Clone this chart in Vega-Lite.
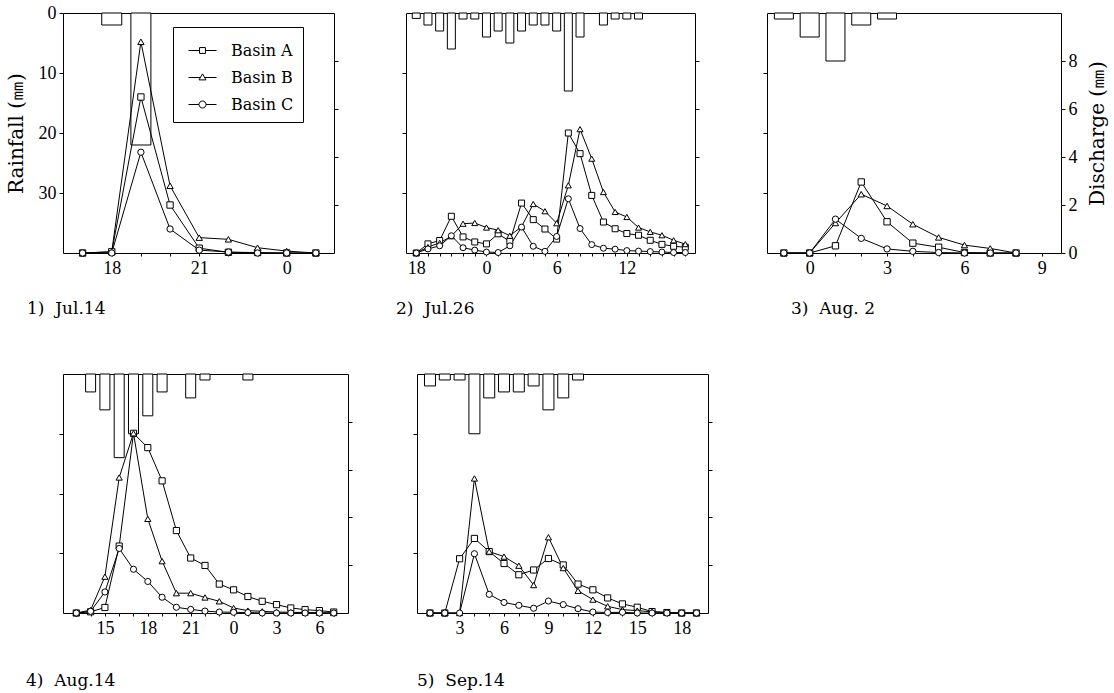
{
"$schema": "https://vega.github.io/schema/vega-lite/v6.json",
"background": "white",
"autosize": {"type": "pad"},
"padding": {"left": 5, "top": 3, "right": 5, "bottom": 5},
"config": {
 "font": "DejaVu Serif",
 "view": {"stroke": "black", "strokeWidth": 1},
 "axis": {"domain": false, "grid": false, "tickColor": "black", "tickSize": 4, "labelFont": "Liberation Serif", "labelFontSize": 18, "labelColor": "black", "labelPadding": 3, "labelOverlap": false, "labelFlush": false, "titleFont": "DejaVu Serif", "titleFontSize": 20, "titleFontWeight": "normal", "titleColor": "black"},
 "title": {"font": "DejaVu Serif", "fontSize": 17, "fontWeight": "normal", "color": "black", "orient": "bottom", "anchor": "start", "frame": "group", "offset": 24},
 "legend": {"strokeColor": "black", "fillColor": "white", "padding": 9, "symbolOffset": 6, "labelOffset": 14, "symbolSize": 784, "symbolStrokeWidth": 1, "symbolStrokeColor": "black", "symbolOpacity": 1, "labelFont": "DejaVu Serif", "labelFontSize": 16, "labelColor": "black", "rowPadding": 4}
},
"datasets": {
 "rain": [
  {"p":1,"h":18,"r":2},{"p":1,"h":19,"r":22},
  {"p":2,"h":18,"r":0.9},{"p":2,"h":19,"r":2},{"p":2,"h":20,"r":3},{"p":2,"h":21,"r":6},{"p":2,"h":22,"r":1},{"p":2,"h":23,"r":1},{"p":2,"h":24,"r":4},{"p":2,"h":25,"r":3},{"p":2,"h":26,"r":5},{"p":2,"h":27,"r":3},{"p":2,"h":28,"r":2},{"p":2,"h":29,"r":2},{"p":2,"h":30,"r":3},{"p":2,"h":31,"r":13},{"p":2,"h":32,"r":4},{"p":2,"h":34,"r":2},{"p":2,"h":35,"r":1},{"p":2,"h":36,"r":1},{"p":2,"h":37,"r":1},
  {"p":3,"h":-1,"r":1},{"p":3,"h":0,"r":4},{"p":3,"h":1,"r":8},{"p":3,"h":2,"r":2},{"p":3,"h":3,"r":1},
  {"p":4,"h":14,"r":3},{"p":4,"h":15,"r":6},{"p":4,"h":16,"r":14},{"p":4,"h":17,"r":10},{"p":4,"h":18,"r":7},{"p":4,"h":19,"r":3},{"p":4,"h":21,"r":4},{"p":4,"h":22,"r":1},{"p":4,"h":25,"r":1},
  {"p":5,"h":1,"r":2},{"p":5,"h":2,"r":1},{"p":5,"h":3,"r":1},{"p":5,"h":4,"r":10},{"p":5,"h":5,"r":4},{"p":5,"h":6,"r":3},{"p":5,"h":7,"r":3},{"p":5,"h":8,"r":2},{"p":5,"h":9,"r":6},{"p":5,"h":10,"r":4},{"p":5,"h":11,"r":1}
 ],
 "q": [
  {"p":1,"h":17,"A":0,"B":0,"C":0},
  {"p":1,"h":18,"A":0.05,"B":0.05,"C":0},
  {"p":1,"h":19,"A":6.5,"B":8.8,"C":4.2},
  {"p":1,"h":20,"A":2.0,"B":2.8,"C":1.0},
  {"p":1,"h":21,"A":0.2,"B":0.64,"C":0.12},
  {"p":1,"h":22,"A":0.03,"B":0.57,"C":0.04},
  {"p":1,"h":23,"A":0.02,"B":0.22,"C":0},
  {"p":1,"h":24,"A":0,"B":0.08,"C":0},
  {"p":1,"h":25,"A":0,"B":0,"C":0},
  {"p":2,"h":18,"A":0,"B":0,"C":0},
  {"p":2,"h":19,"A":0.38,"B":0.25,"C":0.17},
  {"p":2,"h":20,"A":0.52,"B":0.42,"C":0.3},
  {"p":2,"h":21,"A":1.53,"B":0.7,"C":0.72},
  {"p":2,"h":22,"A":0.67,"B":1.22,"C":0.22},
  {"p":2,"h":23,"A":0.46,"B":1.25,"C":0.12},
  {"p":2,"h":24,"A":0.38,"B":1.06,"C":0.04},
  {"p":2,"h":25,"A":0.8,"B":0.95,"C":0.02},
  {"p":2,"h":26,"A":0.48,"B":0.72,"C":0.3},
  {"p":2,"h":27,"A":2.08,"B":1.1,"C":1.08},
  {"p":2,"h":28,"A":1.39,"B":2.04,"C":0.28},
  {"p":2,"h":29,"A":1.0,"B":1.74,"C":0.07},
  {"p":2,"h":30,"A":0.58,"B":1.24,"C":0.69},
  {"p":2,"h":31,"A":5.0,"B":2.82,"C":2.26},
  {"p":2,"h":32,"A":4.14,"B":5.16,"C":1.02},
  {"p":2,"h":33,"A":2.4,"B":3.93,"C":0.35},
  {"p":2,"h":34,"A":1.29,"B":2.54,"C":0.2},
  {"p":2,"h":35,"A":1.01,"B":1.71,"C":0.16},
  {"p":2,"h":36,"A":0.81,"B":1.5,"C":0.1},
  {"p":2,"h":37,"A":0.74,"B":1.06,"C":0.08},
  {"p":2,"h":38,"A":0.53,"B":0.88,"C":0.06},
  {"p":2,"h":39,"A":0.36,"B":0.74,"C":0.04},
  {"p":2,"h":40,"A":0.28,"B":0.53,"C":0.02},
  {"p":2,"h":41,"A":0.24,"B":0.37,"C":0.02},
  {"p":3,"h":-1,"A":0,"B":0,"C":0},
  {"p":3,"h":0,"A":0,"B":0,"C":0},
  {"p":3,"h":1,"A":0.3,"B":1.25,"C":1.41},
  {"p":3,"h":2,"A":2.96,"B":2.45,"C":0.61},
  {"p":3,"h":3,"A":1.3,"B":1.96,"C":0.17},
  {"p":3,"h":4,"A":0.41,"B":1.2,"C":0.07},
  {"p":3,"h":5,"A":0.24,"B":0.65,"C":0.02},
  {"p":3,"h":6,"A":0.02,"B":0.33,"C":0},
  {"p":3,"h":7,"A":0,"B":0.19,"C":0},
  {"p":3,"h":8,"A":0,"B":0,"C":0},
  {"p":4,"h":13,"A":0,"B":0,"C":0},
  {"p":4,"h":14,"A":0.05,"B":0.12,"C":0.07},
  {"p":4,"h":15,"A":0.23,"B":1.52,"C":0.88},
  {"p":4,"h":16,"A":2.8,"B":5.67,"C":2.7},
  {"p":4,"h":17,"A":7.52,"B":7.52,"C":1.83},
  {"p":4,"h":18,"A":6.92,"B":3.94,"C":1.32},
  {"p":4,"h":19,"A":5.53,"B":2.17,"C":0.66},
  {"p":4,"h":20,"A":3.45,"B":0.83,"C":0.24},
  {"p":4,"h":21,"A":2.3,"B":0.83,"C":0.15},
  {"p":4,"h":22,"A":1.99,"B":0.65,"C":0.08},
  {"p":4,"h":23,"A":1.21,"B":0.49,"C":0.04},
  {"p":4,"h":24,"A":0.97,"B":0.21,"C":0.03},
  {"p":4,"h":25,"A":0.69,"B":0.1,"C":0.02},
  {"p":4,"h":26,"A":0.49,"B":0.07,"C":0},
  {"p":4,"h":27,"A":0.35,"B":0.04,"C":0},
  {"p":4,"h":28,"A":0.21,"B":0.03,"C":0},
  {"p":4,"h":29,"A":0.14,"B":0.02,"C":0},
  {"p":4,"h":30,"A":0.1,"B":0.01,"C":0},
  {"p":4,"h":31,"A":0.04,"B":0,"C":0},
  {"p":5,"h":1,"A":0,"B":0,"C":0},
  {"p":5,"h":2,"A":0,"B":0,"C":0},
  {"p":5,"h":3,"A":2.27,"B":0,"C":0},
  {"p":5,"h":4,"A":3.12,"B":5.63,"C":2.48},
  {"p":5,"h":5,"A":2.57,"B":2.57,"C":0.78},
  {"p":5,"h":6,"A":2.07,"B":2.36,"C":0.44},
  {"p":5,"h":7,"A":1.6,"B":1.98,"C":0.32},
  {"p":5,"h":8,"A":1.8,"B":1.17,"C":0.2},
  {"p":5,"h":9,"A":2.28,"B":3.17,"C":0.5},
  {"p":5,"h":10,"A":2.01,"B":1.88,"C":0.35},
  {"p":5,"h":11,"A":1.21,"B":0.93,"C":0.18},
  {"p":5,"h":12,"A":0.97,"B":0.56,"C":0.04},
  {"p":5,"h":13,"A":0.63,"B":0.28,"C":0.02},
  {"p":5,"h":14,"A":0.38,"B":0.14,"C":0.03},
  {"p":5,"h":15,"A":0.24,"B":0.1,"C":0},
  {"p":5,"h":16,"A":0.06,"B":0.05,"C":0},
  {"p":5,"h":17,"A":0.02,"B":0.02,"C":0},
  {"p":5,"h":18,"A":0,"B":0,"C":0},
  {"p":5,"h":19,"A":0,"B":0,"C":0}
 ]
},
"bounds": "flush",
"spacing": 361,
"resolve": {"scale": {"x": "independent", "y": "independent", "shape": "independent"}},
"vconcat": [
 {
  "bounds": "flush",
  "spacing": 72,
  "resolve": {"scale": {"x": "independent", "y": "independent", "shape": "independent"}},
  "hconcat": [
   {
    "width": 271, "height": 240,
    "title": {"text": "1)\u00a0\u00a0Jul.14", "dx": -36},
    "encoding": {"x": {"field": "h", "type": "quantitative", "scale": {"domain": [16.5, 25.45], "nice": false, "zero": false},
      "axis": {"values": [17,18,19,20,21,22,23,24,25], "labelExpr": "datum.value % 3 == 0 ? '' + (datum.value % 24) : ''", "title": null, "tickSize": 3}}},
    "resolve": {"scale": {"y": "independent", "shape": "independent"}},
    "layer": [
     {"data": {"name": "rain"}, "transform": [{"filter": "datum.p == 1"}],
      "mark": {"type": "bar", "fill": "white", "stroke": "black", "strokeWidth": 1, "width": 20},
      "encoding": {"y": {"field": "r", "type": "quantitative", "scale": {"domain": [0, 40], "reverse": true, "nice": false},
        "axis": {"orient": "left", "values": [0, 10, 20, 30], "title": "Rainfall (㎜)", "titlePadding": 12}}}},
     {"data": {"name": "q"}, "transform": [{"filter": "datum.p == 1"}, {"fold": ["A", "B", "C"], "as": ["basin", "q"]}],
      "encoding": {"y": {"field": "q", "type": "quantitative", "scale": {"domain": [0, 10], "nice": false},
        "axis": {"orient": "right", "values": [2, 4, 6, 8], "labels": false, "title": null}}},
      "layer": [
       {"mark": {"type": "line", "color": "black", "strokeWidth": 1}, "encoding": {"detail": {"field": "basin"}}},
       {"mark": {"type": "point", "filled": true, "fill": "white", "stroke": "black", "strokeWidth": 1, "opacity": 1, "size": 40},
        "encoding": {"shape": {"field": "basin", "type": "nominal", "scale": {"domain": ["A", "B", "C"], "range": ["square", "triangle-up", "circle"]}, "legend": null}}}
      ]},
     {"data": {"values": [{"basin": "A"}]}, "transform": [{"filter": "false"}],
      "mark": {"type": "point", "filled": false, "stroke": "black", "strokeWidth": 1, "opacity": 1},
      "encoding": {"shape": {"field": "basin", "type": "nominal",
        "scale": {"domain": ["A", "B", "C"], "range": [
          "M-1,0H-0.21M0.21,0H1M-0.21,-0.21H0.21V0.21H-0.21Z",
          "M-1,0H-0.15M0.15,0H1M0,-0.26L0.25,0.17H-0.25Z",
          "M-1,0H-0.25M0.25,0H1M0.25,0A0.25,0.25,0,1,1,-0.25,0A0.25,0.25,0,1,1,0.25,0Z"]},
        "legend": {"orient": "none", "legendX": 110, "legendY": 14, "title": null, "labelExpr": "'Basin ' + datum.label", "symbolStrokeColor": "black", "symbolStrokeWidth": 1}}}}
    ]
   },
   {
    "width": 289, "height": 240,
    "title": {"text": "2)\u00a0\u00a0Jul.26", "dx": -10},
    "encoding": {"x": {"field": "h", "type": "quantitative", "scale": {"domain": [17.55, 41.4], "nice": false, "zero": false},
      "axis": {"values": [18,19,20,21,22,23,24,25,26,27,28,29,30,31,32,33,34,35,36,37,38,39,40,41], "labelExpr": "datum.value % 6 == 0 ? '' + (datum.value % 24) : ''", "title": null, "tickSize": 3}}},
    "resolve": {"scale": {"y": "independent"}},
    "layer": [
     {"data": {"name": "rain"}, "transform": [{"filter": "datum.p == 2"}],
      "mark": {"type": "bar", "fill": "white", "stroke": "black", "strokeWidth": 1, "width": 8},
      "encoding": {"y": {"field": "r", "type": "quantitative", "scale": {"domain": [0, 40], "reverse": true, "nice": false},
        "axis": {"orient": "left", "values": [10, 20, 30], "labels": false, "title": null}}}},
     {"data": {"name": "q"}, "transform": [{"filter": "datum.p == 2"}, {"fold": ["A", "B", "C"], "as": ["basin", "q"]}],
      "encoding": {"y": {"field": "q", "type": "quantitative", "scale": {"domain": [0, 10], "nice": false},
        "axis": {"orient": "right", "values": [2, 4, 6, 8], "labels": false, "title": null}}},
      "layer": [
       {"mark": {"type": "line", "color": "black", "strokeWidth": 1}, "encoding": {"detail": {"field": "basin"}}},
       {"mark": {"type": "point", "filled": true, "fill": "white", "stroke": "black", "strokeWidth": 1, "opacity": 1, "size": 36},
        "encoding": {"shape": {"field": "basin", "type": "nominal", "scale": {"domain": ["A", "B", "C"], "range": ["square", "triangle-up", "circle"]}, "legend": null}}}
      ]}
    ]
   },
   {
    "width": 294, "height": 240,
    "title": {"text": "3)\u00a0\u00a0Aug.\u00a02", "dx": 24},
    "encoding": {"x": {"field": "h", "type": "quantitative", "scale": {"domain": [-1.46, 9.55], "nice": false, "zero": false},
      "axis": {"values": [-1,0,1,2,3,4,5,6,7,8,9], "labelExpr": "datum.value % 3 == 0 ? '' + (datum.value % 24) : ''", "title": null, "tickSize": 3}}},
    "resolve": {"scale": {"y": "independent"}},
    "layer": [
     {"data": {"name": "rain"}, "transform": [{"filter": "datum.p == 3"}],
      "mark": {"type": "bar", "fill": "white", "stroke": "black", "strokeWidth": 1, "width": 19},
      "encoding": {"y": {"field": "r", "type": "quantitative", "scale": {"domain": [0, 40], "reverse": true, "nice": false},
        "axis": {"orient": "left", "values": [10, 20, 30], "labels": false, "title": null}}}},
     {"data": {"name": "q"}, "transform": [{"filter": "datum.p == 3"}, {"fold": ["A", "B", "C"], "as": ["basin", "q"]}],
      "encoding": {"y": {"field": "q", "type": "quantitative", "scale": {"domain": [0, 10], "nice": false},
        "axis": {"orient": "right", "values": [0, 2, 4, 6, 8], "title": "Discharge (㎜)", "titleAngle": -90, "titleBaseline": "top", "titlePadding": 10}}},
      "layer": [
       {"mark": {"type": "line", "color": "black", "strokeWidth": 1}, "encoding": {"detail": {"field": "basin"}}},
       {"mark": {"type": "point", "filled": true, "fill": "white", "stroke": "black", "strokeWidth": 1, "opacity": 1, "size": 40},
        "encoding": {"shape": {"field": "basin", "type": "nominal", "scale": {"domain": ["A", "B", "C"], "range": ["square", "triangle-up", "circle"]}, "legend": null}}}
      ]}
    ]
   }
  ]
 },
 {
  "bounds": "flush",
  "spacing": 69,
  "resolve": {"scale": {"x": "independent", "y": "independent", "shape": "independent"}},
  "hconcat": [
   {
    "width": 285, "height": 239,
    "title": {"text": "4)\u00a0\u00a0Aug.14", "dx": -37, "offset": 36},
    "encoding": {"x": {"field": "h", "type": "quantitative", "scale": {"domain": [12.42, 31.65], "nice": false, "zero": false},
      "axis": {"values": [13,14,15,16,17,18,19,20,21,22,23,24,25,26,27,28,29,30,31], "labelExpr": "datum.value % 3 == 0 ? '' + (datum.value % 24) : ''", "title": null, "tickSize": 3}}},
    "resolve": {"scale": {"y": "independent"}},
    "layer": [
     {"data": {"name": "rain"}, "transform": [{"filter": "datum.p == 4"}],
      "mark": {"type": "bar", "fill": "white", "stroke": "black", "strokeWidth": 1, "width": 10},
      "encoding": {"y": {"field": "r", "type": "quantitative", "scale": {"domain": [0, 40], "reverse": true, "nice": false},
        "axis": {"orient": "left", "values": [10, 20, 30], "labels": false, "title": null}}}},
     {"data": {"name": "q"}, "transform": [{"filter": "datum.p == 4"}, {"fold": ["A", "B", "C"], "as": ["basin", "q"]}],
      "encoding": {"y": {"field": "q", "type": "quantitative", "scale": {"domain": [0, 10], "nice": false},
        "axis": {"orient": "right", "values": [2, 4, 6, 8], "labels": false, "title": null}}},
      "layer": [
       {"mark": {"type": "line", "color": "black", "strokeWidth": 1}, "encoding": {"detail": {"field": "basin"}}},
       {"mark": {"type": "point", "filled": true, "fill": "white", "stroke": "black", "strokeWidth": 1, "opacity": 1, "size": 38},
        "encoding": {"shape": {"field": "basin", "type": "nominal", "scale": {"domain": ["A", "B", "C"], "range": ["square", "triangle-up", "circle"]}, "legend": null}}}
      ]}
    ]
   },
   {
    "width": 291, "height": 239,
    "title": {"text": "5)\u00a0\u00a0Sep.14", "dx": 0, "offset": 36},
    "encoding": {"x": {"field": "h", "type": "quantitative", "scale": {"domain": [0.46, 19.44], "nice": false, "zero": false},
      "axis": {"values": [1,2,3,4,5,6,7,8,9,10,11,12,13,14,15,16,17,18,19], "labelExpr": "datum.value % 3 == 0 ? '' + (datum.value % 24) : ''", "title": null, "tickSize": 3}}},
    "resolve": {"scale": {"y": "independent"}},
    "layer": [
     {"data": {"name": "rain"}, "transform": [{"filter": "datum.p == 5"}],
      "mark": {"type": "bar", "fill": "white", "stroke": "black", "strokeWidth": 1, "width": 11},
      "encoding": {"y": {"field": "r", "type": "quantitative", "scale": {"domain": [0, 40], "reverse": true, "nice": false},
        "axis": {"orient": "left", "values": [10, 20, 30], "labels": false, "title": null}}}},
     {"data": {"name": "q"}, "transform": [{"filter": "datum.p == 5"}, {"fold": ["A", "B", "C"], "as": ["basin", "q"]}],
      "encoding": {"y": {"field": "q", "type": "quantitative", "scale": {"domain": [0, 10], "nice": false},
        "axis": {"orient": "right", "values": [2, 4, 6, 8], "labels": false, "title": null}}},
      "layer": [
       {"mark": {"type": "line", "color": "black", "strokeWidth": 1}, "encoding": {"detail": {"field": "basin"}}},
       {"mark": {"type": "point", "filled": true, "fill": "white", "stroke": "black", "strokeWidth": 1, "opacity": 1, "size": 38},
        "encoding": {"shape": {"field": "basin", "type": "nominal", "scale": {"domain": ["A", "B", "C"], "range": ["square", "triangle-up", "circle"]}, "legend": null}}}
      ]}
    ]
   }
  ]
 }
]
}
